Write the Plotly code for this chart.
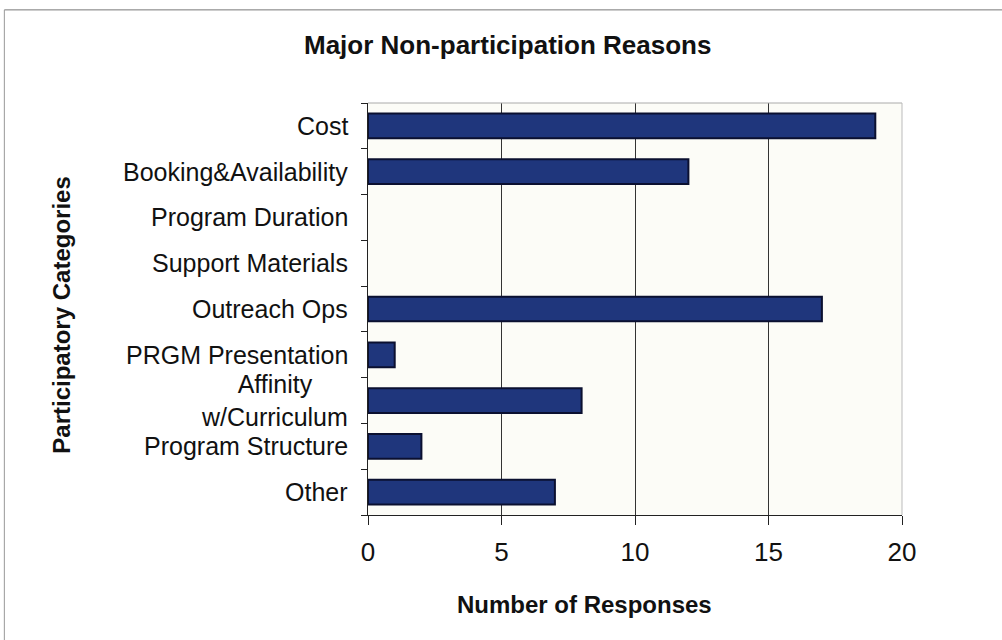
import plotly.graph_objects as go

categories = ["Cost", "Booking&Availability", "Program Duration", "Support Materials",
              "Outreach Ops", "PRGM Presentation", "Affinity<br>w/Curriculum",
              "Program Structure", "Other"]
responses = [19, 12, 0, 0, 17, 1, 8, 2, 7]
x_ticks = [0, 5, 10, 15, 20]

FONT = "Liberation Sans, Arial, sans-serif"
BAR = "#1f367c"

fig = go.Figure()
fig.add_trace(go.Bar(
    y=categories, x=responses, orientation="h",
    marker=dict(color=BAR,
                line=dict(color="#0b1030", width=[2 if v > 0 else 0 for v in responses])),
    width=0.54, showlegend=False, hoverinfo="x+y",
))

# category labels, centred per line like the spreadsheet chart
annotations = []
for cat in categories:
    annotations.append(dict(
        x=-0.033, y=cat, xref="paper", yref="y", text=cat, showarrow=False,
        xanchor="right", yanchor="middle", align="center",
        font=dict(family=FONT, size=25, color="#111"),
    ))

annotations.append(dict(
    x=0.261, y=1.14, xref="paper", yref="paper",
    text="<b>Major Non-participation Reasons</b>", showarrow=False,
    xanchor="center", yanchor="middle",
    font=dict(family=FONT, size=26, color="#111"),
))
annotations.append(dict(
    x=-0.574, y=0.485, xref="paper", yref="paper",
    text="<b>Participatory Categories</b>", showarrow=False, textangle=-90,
    xanchor="center", yanchor="middle",
    font=dict(family=FONT, size=24, color="#111"),
))
annotations.append(dict(
    x=0.406, y=-0.217, xref="paper", yref="paper",
    text="<b>Number of Responses</b>", showarrow=False,
    xanchor="center", yanchor="middle",
    font=dict(family=FONT, size=24, color="#111"),
))

shapes = [
    # outer chart frame
    dict(type="line", xref="paper", yref="paper", x0=-0.681, x1=1.2, y0=1.226, y1=1.226,
         line=dict(color="#777", width=1)),
    dict(type="line", xref="paper", yref="paper", x0=-0.681, x1=-0.681, y0=1.226, y1=-0.31,
         line=dict(color="#999", width=1)),
    # plot area border (top and right)
    dict(type="line", xref="paper", yref="paper", x0=0, x1=1, y0=1, y1=1,
         line=dict(color="#aaa", width=1)),
    dict(type="line", xref="paper", yref="paper", x0=1, x1=1, y0=0, y1=1,
         line=dict(color="#bbb", width=1)),
]

fig.update_layout(
    width=1002, height=640,
    margin=dict(l=368, r=100, t=103, b=125),
    paper_bgcolor="white", plot_bgcolor="#fcfcf7",
    annotations=annotations, shapes=shapes,
    font=dict(family=FONT, color="#111"),
    xaxis=dict(
        range=[0, 20], tickvals=x_ticks, ticks="outside", ticklen=9, tickcolor="#222",
        ticklabelstandoff=5,
        showgrid=True, gridcolor="#333", gridwidth=1,
        showline=True, linecolor="#222", linewidth=1, zeroline=False,
        tickfont=dict(family=FONT, size=26, color="#111"),
    ),
    yaxis=dict(
        categoryorder="array", categoryarray=categories[::-1],
        autorange=True, showticklabels=False,
        ticks="outside", ticklen=6, tickcolor="#222", tickson="boundaries",
        showline=True, linecolor="#222", linewidth=1, showgrid=False,
    ),
)

fig.write_html("out.html")
